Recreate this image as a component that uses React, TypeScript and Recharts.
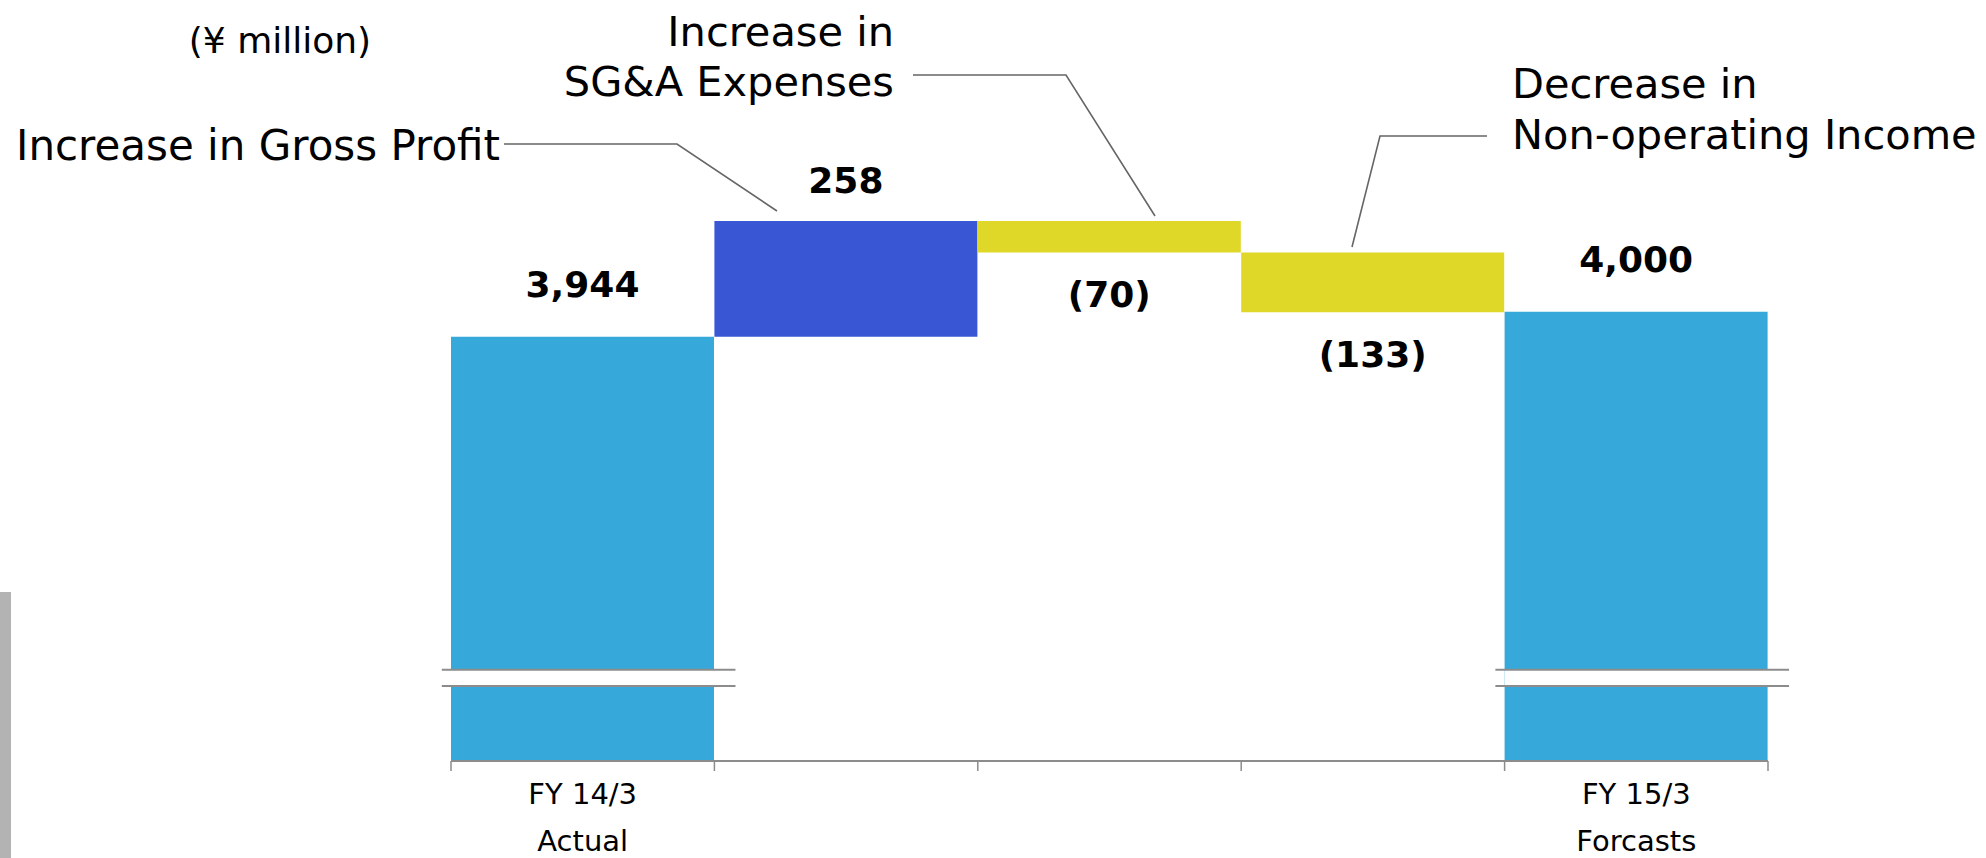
import React from 'react';
import {
  BarChart,
  Bar,
  Cell,
  XAxis,
  YAxis,
  LabelList,
  ReferenceLine,
  ReferenceArea,
} from 'recharts';

// ---------- data ----------
const CATEGORIES = [
  'FY 14/3',
  'Increase in Gross Profit',
  'Increase in SG&A Expenses',
  'Decrease in Non-operating Income',
  'FY 15/3',
];
const VALUES = [3944, 258, -70, -133, 4000];
const IS_TOTAL = [true, false, false, false, true];
const TICK_TOP = ['FY 14/3', '', '', '', 'FY 15/3'];
const TICK_BOTTOM = ['Actual', '', '', '', 'Forcasts'];
const UNIT_LABEL = '(¥ million)';
const ANNOT_GROSS = ['Increase in Gross Profit'];
const ANNOT_SGA = ['Increase in', 'SG&A Expenses'];
const ANNOT_NONOP = ['Decrease in', 'Non-operating Income'];

// axis break (value range shown as cut on the total bars)
const Y_MIN = 3000;
const Y_MAX = 4400;
const BREAK_LOW = 3167;
const BREAK_HIGH = 3203;

// ---------- style ----------
const FONT = '"DejaVu Sans", Verdana, sans-serif';
const C_TOTAL = '#36A8DA';
const C_UP = '#3957D5';
const C_DOWN = '#E0D828';
const C_AXIS = '#8c8c8c';
const C_LEADER = '#666666';

const W = 1986;
const H = 858;

let running = 0;
const data = CATEGORIES.map((name, i) => {
  const v = VALUES[i];
  let low: number;
  let high: number;
  if (IS_TOTAL[i]) {
    low = 0;
    high = v;
    running = v;
  } else {
    const start = running;
    const end = running + v;
    low = Math.min(start, end);
    high = Math.max(start, end);
    running = end;
  }
  return { name, pos: i + 0.5, range: [low, high], delta: v };
});

const colorFor = (i: number) =>
  IS_TOTAL[i] ? C_TOTAL : VALUES[i] >= 0 ? C_UP : C_DOWN;

const fmt = (v: number) =>
  v < 0
    ? `(${Math.abs(v).toLocaleString('en-US')})`
    : v.toLocaleString('en-US');

// numeric helper axis ticks: boundaries (integers) + label centres
const AXIS_TICKS: number[] = [];
for (let i = 0; i <= CATEGORIES.length; i++) {
  AXIS_TICKS.push(i);
  if (i < CATEGORIES.length && TICK_TOP[i]) AXIS_TICKS.push(i + 0.5);
}

const AxisTick = (props: any) => {
  const { x, y, payload } = props;
  const v = payload.value;
  if (Number.isInteger(v)) {
    return (
      <line x1={x} y1={y} x2={x} y2={y + 10} stroke={C_AXIS} strokeWidth={1.5} />
    );
  }
  const i = Math.floor(v);
  return (
    <g>
      <text x={x} y={y + 43} textAnchor="middle" fontFamily={FONT} fontSize={29} fill="#000">
        {TICK_TOP[i]}
      </text>
      <text x={x} y={y + 90} textAnchor="middle" fontFamily={FONT} fontSize={29} fill="#000">
        {TICK_BOTTOM[i]}
      </text>
    </g>
  );
};

const renderValueLabel = (props: any) => {
  const { x, y, width, height, value, index } = props;
  const cx = x + width / 2;
  let ty: number;
  if (value < 0) ty = y + height + 55;
  else ty = y - (IS_TOTAL[index] ? 40 : 28);
  return (
    <text
      key={`lbl-${index}`}
      x={cx}
      y={ty}
      textAnchor="middle"
      fontFamily={FONT}
      fontWeight="bold"
      fontSize={36}
      fill="#000"
    >
      {fmt(value)}
    </text>
  );
};

const BREAK_BARS = IS_TOTAL.map((t, i) => (t ? i : -1)).filter((i) => i >= 0);

export default function App() {
  return (
    <div style={{ position: 'absolute', left: 0, top: 0, width: W, height: H, background: '#fff', overflow: 'hidden' }}>
      <div
        style={{
          position: 'absolute',
          left: 0,
          top: 592,
          width: 11,
          height: H - 592,
          background: '#b3b3b3',
        }}
      />
      <div style={{ position: 'absolute', left: 0, top: 0 }}>
        <BarChart
          width={W}
          height={H}
          data={data}
          margin={{ top: 132, right: 218, bottom: 0, left: 451 }}
          barCategoryGap={0}
          barGap={0}
        >
          <XAxis
            xAxisId="num"
            dataKey="pos"
            type="number"
            domain={[0, CATEGORIES.length]}
            allowDataOverflow
            ticks={AXIS_TICKS}
            interval={0}
            height={97}
            tickSize={0}
            tickMargin={0}
            tickLine={false}
            axisLine={{ stroke: C_AXIS, strokeWidth: 2 }}
            tick={<AxisTick />}
          />
          <XAxis xAxisId="cat" dataKey="name" hide height={0} orientation="top" />
          <YAxis hide type="number" domain={[Y_MIN, Y_MAX]} allowDataOverflow />
          <Bar xAxisId="cat" dataKey="range" isAnimationActive={false}>
            {data.map((_, i) => (
              <Cell key={i} fill={colorFor(i)} />
            ))}
            <LabelList dataKey="delta" content={renderValueLabel} />
          </Bar>
          {BREAK_BARS.map((i) => (
            <ReferenceArea
              key={`ba-${i}`}
              xAxisId="num"
              x1={i}
              x2={i + 1}
              y1={BREAK_LOW}
              y2={BREAK_HIGH}
              fill="#ffffff"
              fillOpacity={1}
              stroke="none"
              ifOverflow="visible"
              zIndex={600}
            />
          ))}
          {BREAK_BARS.flatMap((i) =>
            [BREAK_LOW, BREAK_HIGH].map((yv) => (
              <ReferenceLine
                key={`bl-${i}-${yv}`}
                xAxisId="num"
                segment={[
                  { x: i - 0.035, y: yv },
                  { x: i + 1.08, y: yv },
                ]}
                stroke={C_AXIS}
                strokeWidth={2}
                ifOverflow="visible"
                zIndex={650}
              />
            ))
          )}
        </BarChart>
      </div>
      <svg
        width={W}
        height={H}
        style={{ position: 'absolute', left: 0, top: 0, pointerEvents: 'none' }}
      >
        <text x={280} y={53} textAnchor="middle" fontFamily={FONT} fontSize={36} fill="#000">
          {UNIT_LABEL}
        </text>
        <text x={500} y={160} textAnchor="end" fontFamily={FONT} fontSize={42} fill="#000">
          {ANNOT_GROSS[0]}
        </text>
        <polyline points="504,144 677,144 777,211" fill="none" stroke={C_LEADER} strokeWidth={1.6} />
        <text x={894} y={46} textAnchor="end" fontFamily={FONT} fontSize={41.5} fill="#000">
          {ANNOT_SGA[0]}
        </text>
        <text x={894} y={96} textAnchor="end" fontFamily={FONT} fontSize={41.5} fill="#000">
          {ANNOT_SGA[1]}
        </text>
        <polyline points="913,75 1066,75 1155,216" fill="none" stroke={C_LEADER} strokeWidth={1.6} />
        <text x={1512} y={98} textAnchor="start" fontFamily={FONT} fontSize={41.5} fill="#000">
          {ANNOT_NONOP[0]}
        </text>
        <text x={1512} y={149} textAnchor="start" fontFamily={FONT} fontSize={41.5} fill="#000">
          {ANNOT_NONOP[1]}
        </text>
        <polyline points="1487,136 1380,136 1352,247" fill="none" stroke={C_LEADER} strokeWidth={1.6} />
      </svg>
    </div>
  );
}
